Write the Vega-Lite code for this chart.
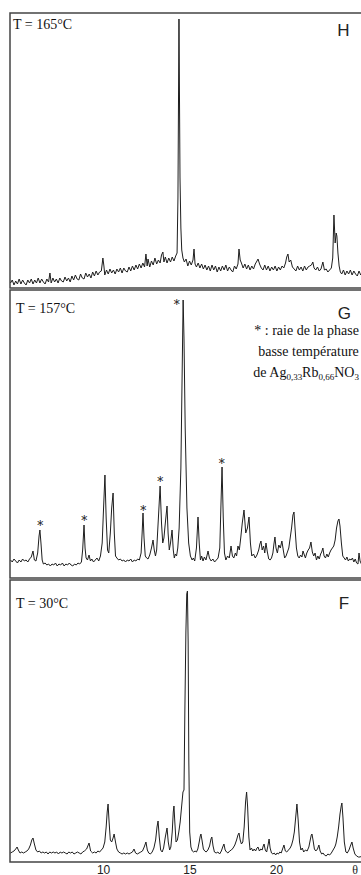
{
"$schema": "https://vega.github.io/schema/vega-lite/v6.json",
"autosize": {"type": "pad"},
"padding": {"left": 9, "top": 12, "right": 0, "bottom": 0},
"background": "white",
"config": {"view": {"stroke": "#444", "strokeWidth": 1.5}},
"spacing": 0,
"datasets": {
"H": [
{"t":4.65,"v":5},{"t":4.75,"v":8},{"t":4.85,"v":3},{"t":4.95,"v":7},{"t":5.05,"v":4},{"t":5.15,"v":9},{"t":5.25,"v":4},{"t":5.35,"v":8},{"t":5.45,"v":5},{"t":5.55,"v":3},{"t":5.65,"v":8},{"t":5.75,"v":5},{"t":5.85,"v":9},{"t":5.95,"v":4},{"t":6.05,"v":8},{"t":6.15,"v":5},{"t":6.25,"v":10},{"t":6.35,"v":5},{"t":6.45,"v":9},{"t":6.55,"v":6},{"t":6.65,"v":4},{"t":6.75,"v":9},{"t":6.85,"v":6},{"t":6.93,"v":15},{"t":7.0,"v":5},{"t":7.1,"v":10},{"t":7.2,"v":6},{"t":7.3,"v":9},{"t":7.4,"v":5},{"t":7.5,"v":10},{"t":7.6,"v":7},{"t":7.7,"v":6},{"t":7.8,"v":11},{"t":7.9,"v":7},{"t":8.0,"v":10},{"t":8.1,"v":6},{"t":8.2,"v":12},{"t":8.3,"v":8},{"t":8.4,"v":13},{"t":8.5,"v":9},{"t":8.6,"v":8},{"t":8.7,"v":14},{"t":8.8,"v":10},{"t":8.9,"v":9},{"t":9.0,"v":15},{"t":9.1,"v":11},{"t":9.2,"v":14},{"t":9.3,"v":10},{"t":9.4,"v":16},{"t":9.5,"v":12},{"t":9.6,"v":17},{"t":9.7,"v":13},{"t":9.8,"v":16},{"t":9.9,"v":17},{"t":9.95,"v":24},{"t":9.99,"v":30},{"t":10.05,"v":22},{"t":10.1,"v":13},{"t":10.2,"v":18},{"t":10.3,"v":14},{"t":10.4,"v":19},{"t":10.5,"v":15},{"t":10.6,"v":18},{"t":10.7,"v":14},{"t":10.8,"v":19},{"t":10.9,"v":16},{"t":11.0,"v":20},{"t":11.1,"v":15},{"t":11.2,"v":20},{"t":11.3,"v":17},{"t":11.4,"v":16},{"t":11.5,"v":21},{"t":11.6,"v":17},{"t":11.7,"v":22},{"t":11.8,"v":18},{"t":11.9,"v":23},{"t":12.0,"v":19},{"t":12.1,"v":24},{"t":12.2,"v":20},{"t":12.3,"v":25},{"t":12.4,"v":21},{"t":12.48,"v":34},{"t":12.55,"v":22},{"t":12.6,"v":29},{"t":12.7,"v":21},{"t":12.8,"v":27},{"t":12.9,"v":23},{"t":13.0,"v":30},{"t":13.1,"v":24},{"t":13.2,"v":28},{"t":13.3,"v":25},{"t":13.38,"v":33},{"t":13.46,"v":36},{"t":13.52,"v":26},{"t":13.6,"v":31},{"t":13.7,"v":25},{"t":13.8,"v":30},{"t":13.9,"v":26},{"t":14.0,"v":31},{"t":14.1,"v":27},{"t":14.2,"v":32},{"t":14.28,"v":35},{"t":14.33,"v":90},{"t":14.36,"v":180},{"t":14.39,"v":269},{"t":14.42,"v":190},{"t":14.45,"v":110},{"t":14.5,"v":60},{"t":14.55,"v":38},{"t":14.62,"v":30},{"t":14.7,"v":26},{"t":14.8,"v":29},{"t":14.9,"v":22},{"t":15.0,"v":27},{"t":15.1,"v":23},{"t":15.2,"v":28},{"t":15.26,"v":39},{"t":15.32,"v":24},{"t":15.4,"v":21},{"t":15.5,"v":25},{"t":15.6,"v":20},{"t":15.7,"v":24},{"t":15.8,"v":19},{"t":15.9,"v":23},{"t":16.0,"v":18},{"t":16.1,"v":22},{"t":16.2,"v":17},{"t":16.3,"v":23},{"t":16.4,"v":18},{"t":16.5,"v":22},{"t":16.6,"v":16},{"t":16.7,"v":21},{"t":16.8,"v":17},{"t":16.9,"v":22},{"t":17.0,"v":18},{"t":17.1,"v":23},{"t":17.2,"v":17},{"t":17.3,"v":21},{"t":17.4,"v":18},{"t":17.5,"v":16},{"t":17.6,"v":22},{"t":17.7,"v":19},{"t":17.8,"v":24},{"t":17.86,"v":39},{"t":17.93,"v":28},{"t":18.0,"v":25},{"t":18.1,"v":20},{"t":18.2,"v":24},{"t":18.3,"v":19},{"t":18.4,"v":23},{"t":18.5,"v":18},{"t":18.6,"v":22},{"t":18.7,"v":19},{"t":18.8,"v":24},{"t":18.9,"v":27},{"t":18.96,"v":29},{"t":19.05,"v":24},{"t":19.15,"v":20},{"t":19.25,"v":18},{"t":19.35,"v":23},{"t":19.45,"v":18},{"t":19.55,"v":22},{"t":19.65,"v":17},{"t":19.75,"v":21},{"t":19.85,"v":18},{"t":19.95,"v":22},{"t":20.05,"v":17},{"t":20.15,"v":21},{"t":20.25,"v":18},{"t":20.35,"v":22},{"t":20.45,"v":20},{"t":20.55,"v":25},{"t":20.62,"v":31},{"t":20.69,"v":34},{"t":20.76,"v":26},{"t":20.85,"v":28},{"t":20.95,"v":21},{"t":21.05,"v":19},{"t":21.15,"v":17},{"t":21.25,"v":22},{"t":21.35,"v":18},{"t":21.45,"v":21},{"t":21.55,"v":17},{"t":21.65,"v":22},{"t":21.75,"v":18},{"t":21.85,"v":21},{"t":21.95,"v":22},{"t":22.05,"v":23},{"t":22.13,"v":26},{"t":22.2,"v":20},{"t":22.3,"v":18},{"t":22.4,"v":21},{"t":22.5,"v":17},{"t":22.6,"v":19},{"t":22.71,"v":26},{"t":22.8,"v":18},{"t":22.9,"v":19},{"t":23.0,"v":16},{"t":23.1,"v":18},{"t":23.2,"v":20},{"t":23.28,"v":30},{"t":23.35,"v":73},{"t":23.42,"v":45},{"t":23.48,"v":55},{"t":23.52,"v":52},{"t":23.58,"v":35},{"t":23.65,"v":22},{"t":23.72,"v":16},{"t":23.8,"v":14},{"t":23.9,"v":18},{"t":24.0,"v":13},{"t":24.1,"v":17},{"t":24.2,"v":14},{"t":24.3,"v":18},{"t":24.4,"v":13},{"t":24.5,"v":17},{"t":24.6,"v":14},{"t":24.7,"v":12},{"t":24.8,"v":17},{"t":24.9,"v":13},{"t":25.0,"v":15}
],
"G": [
{"t":4.65,"v":18},{"t":4.75,"v":16},{"t":4.85,"v":19},{"t":4.95,"v":17},{"t":5.05,"v":15},{"t":5.15,"v":18},{"t":5.25,"v":16},{"t":5.35,"v":19},{"t":5.45,"v":17},{"t":5.55,"v":18},{"t":5.65,"v":16},{"t":5.75,"v":19},{"t":5.85,"v":21},{"t":5.95,"v":27},{"t":6.03,"v":18},{"t":6.12,"v":17},{"t":6.22,"v":25},{"t":6.30,"v":42},{"t":6.35,"v":48},{"t":6.41,"v":35},{"t":6.48,"v":18},{"t":6.55,"v":14},{"t":6.65,"v":15},{"t":6.75,"v":13},{"t":6.85,"v":14},{"t":6.95,"v":12},{"t":7.05,"v":14},{"t":7.15,"v":13},{"t":7.25,"v":15},{"t":7.35,"v":12},{"t":7.45,"v":14},{"t":7.55,"v":13},{"t":7.65,"v":15},{"t":7.75,"v":12},{"t":7.85,"v":14},{"t":7.95,"v":13},{"t":8.05,"v":15},{"t":8.15,"v":13},{"t":8.25,"v":12},{"t":8.35,"v":14},{"t":8.45,"v":13},{"t":8.55,"v":15},{"t":8.65,"v":14},{"t":8.75,"v":16},{"t":8.82,"v":28},{"t":8.90,"v":53},{"t":8.96,"v":30},{"t":9.02,"v":20},{"t":9.10,"v":18},{"t":9.19,"v":23},{"t":9.27,"v":17},{"t":9.35,"v":19},{"t":9.45,"v":16},{"t":9.55,"v":18},{"t":9.65,"v":20},{"t":9.75,"v":17},{"t":9.85,"v":22},{"t":9.95,"v":35},{"t":10.03,"v":70},{"t":10.11,"v":103},{"t":10.18,"v":60},{"t":10.26,"v":28},{"t":10.33,"v":25},{"t":10.42,"v":45},{"t":10.50,"v":70},{"t":10.58,"v":85},{"t":10.65,"v":45},{"t":10.72,"v":22},{"t":10.80,"v":20},{"t":10.90,"v":18},{"t":11.00,"v":19},{"t":11.10,"v":17},{"t":11.20,"v":18},{"t":11.30,"v":16},{"t":11.40,"v":18},{"t":11.50,"v":17},{"t":11.60,"v":19},{"t":11.70,"v":16},{"t":11.80,"v":18},{"t":11.90,"v":17},{"t":12.00,"v":19},{"t":12.10,"v":18},{"t":12.20,"v":25},{"t":12.26,"v":45},{"t":12.31,"v":65},{"t":12.37,"v":40},{"t":12.44,"v":22},{"t":12.52,"v":20},{"t":12.60,"v":19},{"t":12.70,"v":23},{"t":12.80,"v":30},{"t":12.89,"v":38},{"t":12.96,"v":28},{"t":13.03,"v":22},{"t":13.10,"v":28},{"t":13.20,"v":60},{"t":13.30,"v":92},{"t":13.38,"v":55},{"t":13.45,"v":35},{"t":13.52,"v":40},{"t":13.60,"v":55},{"t":13.70,"v":72},{"t":13.76,"v":45},{"t":13.83,"v":28},{"t":13.90,"v":35},{"t":13.99,"v":48},{"t":14.06,"v":28},{"t":14.12,"v":20},{"t":14.18,"v":24},{"t":14.25,"v":22},{"t":14.32,"v":30},{"t":14.40,"v":50},{"t":14.50,"v":110},{"t":14.57,"v":200},{"t":14.63,"v":278},{"t":14.68,"v":240},{"t":14.75,"v":150},{"t":14.85,"v":70},{"t":14.95,"v":35},{"t":15.05,"v":22},{"t":15.15,"v":18},{"t":15.22,"v":20},{"t":15.30,"v":17},{"t":15.40,"v":30},{"t":15.49,"v":61},{"t":15.56,"v":35},{"t":15.63,"v":18},{"t":15.70,"v":22},{"t":15.78,"v":17},{"t":15.86,"v":21},{"t":15.95,"v":18},{"t":16.07,"v":27},{"t":16.15,"v":20},{"t":16.25,"v":17},{"t":16.35,"v":19},{"t":16.45,"v":16},{"t":16.55,"v":18},{"t":16.65,"v":20},{"t":16.75,"v":30},{"t":16.82,"v":75},{"t":16.88,"v":111},{"t":16.95,"v":60},{"t":17.02,"v":25},{"t":17.10,"v":18},{"t":17.20,"v":22},{"t":17.30,"v":20},{"t":17.40,"v":32},{"t":17.48,"v":22},{"t":17.56,"v":20},{"t":17.65,"v":25},{"t":17.72,"v":22},{"t":17.80,"v":32},{"t":17.88,"v":28},{"t":17.96,"v":40},{"t":18.05,"v":55},{"t":18.15,"v":68},{"t":18.25,"v":45},{"t":18.35,"v":50},{"t":18.44,"v":61},{"t":18.52,"v":35},{"t":18.60,"v":22},{"t":18.70,"v":24},{"t":18.80,"v":20},{"t":18.90,"v":23},{"t":19.00,"v":28},{"t":19.07,"v":34},{"t":19.13,"v":37},{"t":19.20,"v":28},{"t":19.28,"v":32},{"t":19.35,"v":25},{"t":19.42,"v":35},{"t":19.50,"v":26},{"t":19.58,"v":19},{"t":19.66,"v":18},{"t":19.74,"v":20},{"t":19.82,"v":25},{"t":19.88,"v":34},{"t":19.94,"v":41},{"t":20.00,"v":30},{"t":20.08,"v":25},{"t":20.16,"v":33},{"t":20.25,"v":30},{"t":20.34,"v":37},{"t":20.42,"v":28},{"t":20.50,"v":20},{"t":20.58,"v":22},{"t":20.66,"v":26},{"t":20.74,"v":30},{"t":20.82,"v":40},{"t":20.90,"v":50},{"t":20.98,"v":63},{"t":21.04,"v":66},{"t":21.10,"v":50},{"t":21.18,"v":30},{"t":21.26,"v":22},{"t":21.34,"v":20},{"t":21.42,"v":23},{"t":21.50,"v":21},{"t":21.56,"v":27},{"t":21.62,"v":24},{"t":21.70,"v":20},{"t":21.78,"v":25},{"t":21.86,"v":28},{"t":21.94,"v":30},{"t":22.02,"v":36},{"t":22.10,"v":26},{"t":22.18,"v":22},{"t":22.26,"v":25},{"t":22.34,"v":18},{"t":22.42,"v":22},{"t":22.50,"v":19},{"t":22.58,"v":24},{"t":22.64,"v":26},{"t":22.71,"v":30},{"t":22.78,"v":22},{"t":22.86,"v":20},{"t":22.94,"v":24},{"t":23.02,"v":21},{"t":23.10,"v":25},{"t":23.18,"v":28},{"t":23.26,"v":30},{"t":23.34,"v":32},{"t":23.42,"v":38},{"t":23.50,"v":50},{"t":23.58,"v":57},{"t":23.64,"v":59},{"t":23.70,"v":52},{"t":23.78,"v":35},{"t":23.86,"v":22},{"t":23.94,"v":20},{"t":24.02,"v":18},{"t":24.10,"v":21},{"t":24.18,"v":17},{"t":24.26,"v":19},{"t":24.34,"v":18},{"t":24.42,"v":20},{"t":24.50,"v":16},{"t":24.58,"v":19},{"t":24.66,"v":15},{"t":24.74,"v":14},{"t":24.80,"v":25},{"t":24.86,"v":17},{"t":24.94,"v":14},{"t":25.02,"v":16}
],
"F": [
{"t":4.65,"v":9},{"t":4.75,"v":10},{"t":4.85,"v":11},{"t":4.95,"v":13},{"t":5.03,"v":15},{"t":5.10,"v":12},{"t":5.20,"v":9},{"t":5.30,"v":10},{"t":5.40,"v":9},{"t":5.50,"v":10},{"t":5.60,"v":11},{"t":5.70,"v":13},{"t":5.80,"v":17},{"t":5.88,"v":22},{"t":5.95,"v":24},{"t":6.03,"v":18},{"t":6.12,"v":12},{"t":6.22,"v":10},{"t":6.32,"v":11},{"t":6.42,"v":9},{"t":6.52,"v":10},{"t":6.62,"v":9},{"t":6.72,"v":10},{"t":6.82,"v":8},{"t":6.92,"v":10},{"t":7.02,"v":9},{"t":7.12,"v":10},{"t":7.22,"v":9},{"t":7.32,"v":10},{"t":7.42,"v":8},{"t":7.52,"v":10},{"t":7.62,"v":9},{"t":7.72,"v":10},{"t":7.82,"v":9},{"t":7.92,"v":8},{"t":8.02,"v":10},{"t":8.12,"v":9},{"t":8.22,"v":10},{"t":8.32,"v":8},{"t":8.42,"v":9},{"t":8.52,"v":10},{"t":8.62,"v":9},{"t":8.72,"v":8},{"t":8.82,"v":10},{"t":8.92,"v":11},{"t":9.05,"v":13},{"t":9.19,"v":19},{"t":9.28,"v":11},{"t":9.40,"v":9},{"t":9.50,"v":10},{"t":9.60,"v":9},{"t":9.70,"v":11},{"t":9.80,"v":10},{"t":9.90,"v":12},{"t":10.00,"v":14},{"t":10.10,"v":20},{"t":10.18,"v":35},{"t":10.24,"v":50},{"t":10.29,"v":58},{"t":10.35,"v":40},{"t":10.42,"v":22},{"t":10.50,"v":20},{"t":10.58,"v":24},{"t":10.64,"v":28},{"t":10.72,"v":20},{"t":10.80,"v":13},{"t":10.90,"v":10},{"t":11.00,"v":9},{"t":11.10,"v":8},{"t":11.20,"v":9},{"t":11.30,"v":8},{"t":11.40,"v":9},{"t":11.50,"v":8},{"t":11.60,"v":9},{"t":11.70,"v":10},{"t":11.79,"v":13},{"t":11.88,"v":9},{"t":11.98,"v":8},{"t":12.08,"v":9},{"t":12.18,"v":10},{"t":12.28,"v":11},{"t":12.38,"v":15},{"t":12.48,"v":20},{"t":12.56,"v":12},{"t":12.64,"v":9},{"t":12.74,"v":8},{"t":12.84,"v":10},{"t":12.94,"v":14},{"t":13.04,"v":22},{"t":13.12,"v":35},{"t":13.18,"v":41},{"t":13.25,"v":25},{"t":13.33,"v":12},{"t":13.42,"v":10},{"t":13.50,"v":14},{"t":13.60,"v":25},{"t":13.70,"v":34},{"t":13.77,"v":20},{"t":13.85,"v":12},{"t":13.92,"v":15},{"t":14.00,"v":30},{"t":14.06,"v":50},{"t":14.10,"v":56},{"t":14.15,"v":40},{"t":14.22,"v":20},{"t":14.30,"v":22},{"t":14.38,"v":30},{"t":14.46,"v":40},{"t":14.54,"v":55},{"t":14.62,"v":70},{"t":14.68,"v":72},{"t":14.73,"v":150},{"t":14.79,"v":230},{"t":14.84,"v":268},{"t":14.88,"v":271},{"t":14.92,"v":220},{"t":14.96,"v":100},{"t":15.01,"v":30},{"t":15.08,"v":15},{"t":15.16,"v":11},{"t":15.24,"v":10},{"t":15.32,"v":11},{"t":15.40,"v":10},{"t":15.48,"v":13},{"t":15.56,"v":20},{"t":15.62,"v":26},{"t":15.66,"v":28},{"t":15.72,"v":22},{"t":15.80,"v":13},{"t":15.88,"v":11},{"t":15.96,"v":10},{"t":16.06,"v":12},{"t":16.16,"v":16},{"t":16.24,"v":23},{"t":16.29,"v":25},{"t":16.36,"v":16},{"t":16.44,"v":10},{"t":16.54,"v":9},{"t":16.64,"v":10},{"t":16.74,"v":8},{"t":16.84,"v":11},{"t":16.92,"v":15},{"t":16.99,"v":18},{"t":17.06,"v":12},{"t":17.14,"v":10},{"t":17.22,"v":9},{"t":17.32,"v":11},{"t":17.42,"v":12},{"t":17.52,"v":14},{"t":17.62,"v":17},{"t":17.72,"v":22},{"t":17.80,"v":27},{"t":17.86,"v":29},{"t":17.93,"v":22},{"t":18.00,"v":18},{"t":18.08,"v":20},{"t":18.16,"v":35},{"t":18.24,"v":60},{"t":18.30,"v":70},{"t":18.36,"v":55},{"t":18.43,"v":25},{"t":18.50,"v":12},{"t":18.58,"v":14},{"t":18.66,"v":11},{"t":18.74,"v":13},{"t":18.82,"v":11},{"t":18.90,"v":14},{"t":18.96,"v":15},{"t":19.04,"v":11},{"t":19.12,"v":13},{"t":19.20,"v":12},{"t":19.26,"v":16},{"t":19.31,"v":18},{"t":19.38,"v":12},{"t":19.46,"v":10},{"t":19.54,"v":17},{"t":19.60,"v":23},{"t":19.66,"v":14},{"t":19.74,"v":9},{"t":19.82,"v":8},{"t":19.90,"v":9},{"t":19.98,"v":7},{"t":20.06,"v":9},{"t":20.14,"v":8},{"t":20.22,"v":10},{"t":20.30,"v":9},{"t":20.38,"v":13},{"t":20.46,"v":17},{"t":20.54,"v":11},{"t":20.62,"v":10},{"t":20.72,"v":12},{"t":20.82,"v":14},{"t":20.90,"v":17},{"t":20.98,"v":22},{"t":21.06,"v":30},{"t":21.14,"v":45},{"t":21.21,"v":58},{"t":21.28,"v":42},{"t":21.36,"v":20},{"t":21.44,"v":12},{"t":21.52,"v":14},{"t":21.60,"v":10},{"t":21.70,"v":12},{"t":21.80,"v":11},{"t":21.90,"v":15},{"t":21.98,"v":22},{"t":22.04,"v":27},{"t":22.08,"v":28},{"t":22.14,"v":22},{"t":22.22,"v":13},{"t":22.30,"v":11},{"t":22.40,"v":13},{"t":22.48,"v":17},{"t":22.55,"v":11},{"t":22.64,"v":8},{"t":22.72,"v":9},{"t":22.80,"v":7},{"t":22.90,"v":6},{"t":23.00,"v":8},{"t":23.10,"v":7},{"t":23.20,"v":9},{"t":23.30,"v":12},{"t":23.40,"v":15},{"t":23.46,"v":18},{"t":23.54,"v":25},{"t":23.62,"v":35},{"t":23.70,"v":48},{"t":23.77,"v":56},{"t":23.81,"v":59},{"t":23.87,"v":45},{"t":23.95,"v":20},{"t":24.04,"v":10},{"t":24.12,"v":9},{"t":24.22,"v":12},{"t":24.30,"v":16},{"t":24.39,"v":20},{"t":24.46,"v":14},{"t":24.56,"v":8},{"t":24.66,"v":6},{"t":24.76,"v":5},{"t":24.86,"v":5},{"t":24.96,"v":6},{"t":25.02,"v":5}
],
"notes": [
{"p":"H","k":"temp","t":4.79,"v":259,"label":"T = 165°C"},
{"p":"H","k":"letter","t":23.90,"v":252,"label":"H"},
{"p":"G","k":"temp","t":4.97,"v":265,"label":"T = 157°C"},
{"p":"G","k":"letter","t":23.95,"v":259,"label":"G"},
{"p":"G","k":"legend","t":24.79,"v":243,"label":"* : raie de la phase"},
{"p":"G","k":"legend","t":24.79,"v":222,"label":"basse température"},
{"p":"G","k":"legend","t":20.602,"v":201,"label":"de Ag"},
{"p":"G","k":"legend","t":22.454,"v":201,"label":"Rb"},
{"p":"G","k":"legend","t":24.532,"v":201,"label":"NO"},
{"p":"G","k":"sub","t":21.512,"v":198,"label":"0,33"},
{"p":"G","k":"sub","t":23.365,"v":198,"label":"0,66"},
{"p":"G","k":"sub","t":24.792,"v":198,"label":"3"},
{"p":"G","k":"star","t":6.37,"v":48.4,"label":"*"},
{"p":"G","k":"star","t":8.91,"v":53.4,"label":"*"},
{"p":"G","k":"star","t":12.33,"v":63.4,"label":"*"},
{"p":"G","k":"star","t":13.31,"v":92.4,"label":"*"},
{"p":"G","k":"star","t":14.26,"v":269,"label":"*"},
{"p":"G","k":"star","t":16.86,"v":110,"label":"*"},
{"p":"F","k":"temp","t":4.97,"v":254,"label":"T = 30°C"},
{"p":"F","k":"letter","t":23.93,"v":253,"label":"F"}
]
},
"vconcat": [
{
"width": 353, "height": 275,
"encoding": {
"x": {"field": "t", "type": "quantitative", "scale": {"domain": [4.62, 25.03], "nice": false, "zero": false}, "axis": null},
"y": {"field": "v", "type": "quantitative", "scale": {"domain": [0, 275], "nice": false}, "axis": null}
},
"layer": [
{"data": {"name": "H"}, "mark": {"type": "line", "color": "#1e1e1e", "strokeWidth": 1, "clip": true}, "encoding": {}},
{"data": {"name": "notes"}, "transform": [{"filter": "datum.p=='H' && datum.k=='temp'"}], "mark": {"type": "text", "font": "Liberation Serif", "fontSize": 14, "align": "left", "baseline": "alphabetic", "fill": "#111"}, "encoding": {"text": {"field": "label"}}},
{"data": {"name": "notes"}, "transform": [{"filter": "datum.p=='H' && datum.k=='letter'"}], "mark": {"type": "text", "font": "Liberation Sans", "fontSize": 17, "align": "center", "baseline": "alphabetic", "fill": "#222"}, "encoding": {"text": {"field": "label"}}}
]
},
{
"width": 353, "height": 288,
"encoding": {
"x": {"field": "t", "type": "quantitative", "scale": {"domain": [4.62, 25.03], "nice": false, "zero": false}, "axis": null},
"y": {"field": "v", "type": "quantitative", "scale": {"domain": [0, 288], "nice": false}, "axis": null}
},
"layer": [
{"data": {"name": "G"}, "mark": {"type": "line", "color": "#1e1e1e", "strokeWidth": 1, "clip": true}, "encoding": {}},
{"data": {"name": "notes"}, "transform": [{"filter": "datum.p=='G' && datum.k=='temp'"}], "mark": {"type": "text", "font": "Liberation Serif", "fontSize": 14, "align": "left", "baseline": "alphabetic", "fill": "#111"}, "encoding": {"text": {"field": "label"}}},
{"data": {"name": "notes"}, "transform": [{"filter": "datum.p=='G' && datum.k=='letter'"}], "mark": {"type": "text", "font": "Liberation Sans", "fontSize": 17, "align": "center", "baseline": "alphabetic", "fill": "#222"}, "encoding": {"text": {"field": "label"}}},
{"data": {"name": "notes"}, "transform": [{"filter": "datum.p=='G' && datum.k=='legend'"}], "mark": {"type": "text", "font": "Liberation Serif", "fontSize": 14, "align": "right", "baseline": "alphabetic", "fill": "#111"}, "encoding": {"text": {"field": "label"}}},
{"data": {"name": "notes"}, "transform": [{"filter": "datum.p=='G' && datum.k=='sub'"}], "mark": {"type": "text", "font": "Liberation Serif", "fontSize": 9, "align": "right", "baseline": "alphabetic", "fill": "#111"}, "encoding": {"text": {"field": "label"}}},
{"data": {"name": "notes"}, "transform": [{"filter": "datum.p=='G' && datum.k=='star'"}], "mark": {"type": "text", "font": "DejaVu Serif", "fontSize": 12, "align": "center", "baseline": "alphabetic", "fill": "#111"}, "encoding": {"text": {"field": "label"}}}
]
},
{
"width": 353, "height": 282,
"encoding": {
"x": {"field": "t", "type": "quantitative", "scale": {"domain": [4.62, 25.03], "nice": false, "zero": false},
 "axis": {"values": [10, 15, 20, 24.55], "labelExpr": "datum.value > 24 ? 'θ' : datum.label", "ticks": false, "tickSize": 0, "domain": false, "grid": false, "title": null, "labelFlush": false, "labelOverlap": false, "labelPadding": 2, "labelBaseline": "top", "labelColor": "#222",
  "labelFont": {"condition": {"test": "datum.value > 24", "value": "Liberation Serif"}, "value": "Liberation Sans"},
  "labelFontSize": 12}},
"y": {"field": "v", "type": "quantitative", "scale": {"domain": [0, 282], "nice": false}, "axis": null}
},
"layer": [
{"data": {"name": "F"}, "mark": {"type": "line", "color": "#1e1e1e", "strokeWidth": 1, "clip": true}, "encoding": {}},
{"data": {"name": "notes"}, "transform": [{"filter": "datum.p=='F' && datum.k=='temp'"}], "mark": {"type": "text", "font": "Liberation Serif", "fontSize": 14, "align": "left", "baseline": "alphabetic", "fill": "#111"}, "encoding": {"text": {"field": "label"}}},
{"data": {"name": "notes"}, "transform": [{"filter": "datum.p=='F' && datum.k=='letter'"}], "mark": {"type": "text", "font": "Liberation Sans", "fontSize": 17, "align": "center", "baseline": "alphabetic", "fill": "#222"}, "encoding": {"text": {"field": "label"}}}
]
}
]
}
